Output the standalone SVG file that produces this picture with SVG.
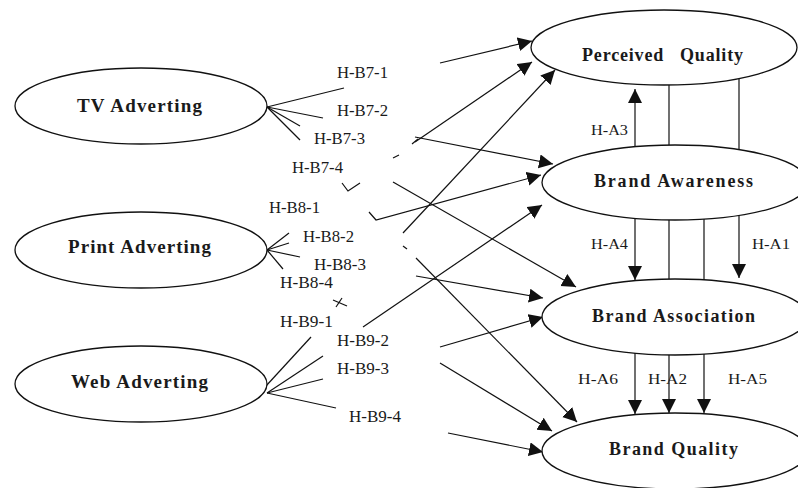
<svg xmlns="http://www.w3.org/2000/svg" width="798" height="488" viewBox="0 0 798 488">
  <defs>
    <marker id="arrow" markerUnits="userSpaceOnUse" markerWidth="15" markerHeight="15" refX="14" refY="7" orient="auto">
      <path d="M0,0 L14,7 L0,14 z" fill="#111"/>
    </marker>
  </defs>
  <style>
    .node ellipse { fill: #fff; stroke: #111; stroke-width: 1.3; }
    .node text { font-family: "Liberation Serif", "Times New Roman", serif; font-weight: bold; fill: #1a1a1a; }
    .lbl { font-family: "Liberation Serif", "Times New Roman", serif; font-size: 16px; fill: #1a1a1a; }
    .albl { font-family: "Liberation Serif", "Times New Roman", serif; font-size: 15px; fill: #1a1a1a; }
    .edges line, .edges polyline { stroke: #111; stroke-width: 1.2; fill: none; }
    .edges .arr { marker-end: url(#arrow); }
  </style>
  <rect width="798" height="488" fill="#fff"/>

  <!-- connectors -->
  <g id="connectors" class="edges">
    <!-- TV fan -->
    <line x1="267" y1="107" x2="344" y2="88"/>
    <line x1="267" y1="107" x2="323" y2="118"/>
    <line x1="267" y1="107" x2="300" y2="126"/>
    <line x1="267" y1="107" x2="300" y2="140"/>
    <!-- Print fan -->
    <line x1="267" y1="250" x2="289" y2="233"/>
    <line x1="267" y1="250" x2="289" y2="243"/>
    <line x1="267" y1="250" x2="300" y2="257"/>
    <line x1="267" y1="250" x2="283" y2="269"/>
    <!-- Web fan -->
    <line x1="266" y1="386" x2="311" y2="337"/>
    <line x1="267" y1="393" x2="323" y2="356"/>
    <line x1="267" y1="393" x2="323" y2="379"/>
    <line x1="267" y1="393" x2="336" y2="408"/>

    <!-- small stray marks -->
    <line x1="393" y1="158" x2="399" y2="155"/>
    <polyline points="342,183 348,191 360,183"/>
    <line x1="403" y1="246" x2="407" y2="249"/>
    <line x1="333" y1="300" x2="347" y2="306"/>
    <line x1="336" y1="307" x2="342" y2="298"/>
    <line x1="412" y1="144" x2="418" y2="139"/>

    <!-- arrows into Perceived Quality -->
    <line class="arr" x1="440" y1="63" x2="532" y2="41"/>
    <line class="arr" x1="415" y1="142" x2="532" y2="62"/>
    <line class="arr" x1="403" y1="233" x2="555" y2="70"/>
    <!-- arrows into Brand Awareness -->
    <line class="arr" x1="415" y1="137" x2="553" y2="164"/>
    <polyline class="arr" points="369,212 376,220 541,175"/>
    <line class="arr" x1="363" y1="327" x2="542" y2="205"/>
    <!-- arrows into Brand Association -->
    <line class="arr" x1="393" y1="182" x2="576" y2="287"/>
    <line class="arr" x1="416" y1="276" x2="543" y2="298"/>
    <line class="arr" x1="440" y1="347" x2="543" y2="317"/>
    <!-- arrows into Brand Quality -->
    <line class="arr" x1="416" y1="258" x2="577" y2="422"/>
    <line class="arr" x1="440" y1="363" x2="552" y2="431"/>
    <line class="arr" x1="448" y1="433" x2="543" y2="452"/>

    <!-- links between the right-hand constructs -->
    <line class="arr" x1="635" y1="147" x2="635" y2="89"/>
    <line x1="669" y1="85" x2="669" y2="145"/>
    <line x1="739" y1="79" x2="739" y2="150"/>

    <line class="arr" x1="635" y1="218" x2="635" y2="280"/>
    <line x1="669" y1="220" x2="669" y2="279"/>
    <line x1="704" y1="219" x2="704" y2="280"/>
    <line class="arr" x1="739" y1="215" x2="739" y2="278"/>

    <line class="arr" x1="635" y1="353" x2="635" y2="414"/>
    <line class="arr" x1="669" y1="355" x2="669" y2="413"/>
    <line class="arr" x1="704" y1="354" x2="704" y2="413"/>
  </g>

  <!-- hypothesis labels -->
  <g id="labels">
    <text class="lbl" x="337" y="78" textLength="51" lengthAdjust="spacingAndGlyphs">H-B7-1</text>
    <text class="lbl" x="337" y="116" textLength="51" lengthAdjust="spacingAndGlyphs">H-B7-2</text>
    <text class="lbl" x="314" y="144" textLength="51" lengthAdjust="spacingAndGlyphs">H-B7-3</text>
    <text class="lbl" x="292" y="173" textLength="51" lengthAdjust="spacingAndGlyphs">H-B7-4</text>
    <text class="lbl" x="269" y="213" textLength="51" lengthAdjust="spacingAndGlyphs">H-B8-1</text>
    <text class="lbl" x="303" y="242" textLength="51" lengthAdjust="spacingAndGlyphs">H-B8-2</text>
    <text class="lbl" x="314" y="270" textLength="52" lengthAdjust="spacingAndGlyphs">H-B8-3</text>
    <text class="lbl" x="280" y="288" textLength="53" lengthAdjust="spacingAndGlyphs">H-B8-4</text>
    <text class="lbl" x="280" y="327" textLength="53" lengthAdjust="spacingAndGlyphs">H-B9-1</text>
    <text class="lbl" x="337" y="346" textLength="52" lengthAdjust="spacingAndGlyphs">H-B9-2</text>
    <text class="lbl" x="337" y="374" textLength="52" lengthAdjust="spacingAndGlyphs">H-B9-3</text>
    <text class="lbl" x="349" y="422" textLength="52" lengthAdjust="spacingAndGlyphs">H-B9-4</text>

    <text class="albl" x="591" y="135" textLength="37" lengthAdjust="spacingAndGlyphs">H-A3</text>
    <text class="albl" x="591" y="249" textLength="37" lengthAdjust="spacingAndGlyphs">H-A4</text>
    <text class="albl" x="752" y="249" textLength="38" lengthAdjust="spacingAndGlyphs">H-A1</text>
    <text class="albl" x="578" y="384" textLength="40" lengthAdjust="spacingAndGlyphs">H-A6</text>
    <text class="albl" x="648" y="384" textLength="39" lengthAdjust="spacingAndGlyphs">H-A2</text>
    <text class="albl" x="728" y="384" textLength="39" lengthAdjust="spacingAndGlyphs">H-A5</text>
  </g>

  <!-- advertising channels -->
  <g id="tv" class="node">
    <ellipse cx="141" cy="106" rx="126" ry="38"/>
    <text x="77" y="112" font-size="19" textLength="125" lengthAdjust="spacing">TV Adverting</text>
  </g>
  <g id="print" class="node">
    <ellipse cx="141" cy="250" rx="126" ry="38"/>
    <text x="68" y="253" font-size="19" textLength="143" lengthAdjust="spacing">Print Adverting</text>
  </g>
  <g id="web" class="node">
    <ellipse cx="141" cy="384" rx="126" ry="38"/>
    <text x="71" y="388" font-size="19" textLength="137" lengthAdjust="spacing">Web Adverting</text>
  </g>

  <!-- brand equity constructs -->
  <g id="perceived-quality" class="node">
    <ellipse cx="664" cy="47.5" rx="133" ry="37.5"/>
    <text x="582" y="61" font-size="18" textLength="161" lengthAdjust="spacing" xml:space="preserve">Perceived   Quality</text>
  </g>
  <g id="brand-awareness" class="node">
    <ellipse cx="675" cy="182.5" rx="133" ry="37.5"/>
    <text x="594" y="187" font-size="18" textLength="159" lengthAdjust="spacing">Brand Awareness</text>
  </g>
  <g id="brand-association" class="node">
    <ellipse cx="675" cy="317" rx="133" ry="38"/>
    <text x="592" y="322" font-size="18" textLength="163" lengthAdjust="spacing">Brand Association</text>
  </g>
  <g id="brand-quality" class="node">
    <ellipse cx="675" cy="451" rx="133" ry="38"/>
    <text x="609" y="455" font-size="18" textLength="129" lengthAdjust="spacing">Brand Quality</text>
  </g>
</svg>
